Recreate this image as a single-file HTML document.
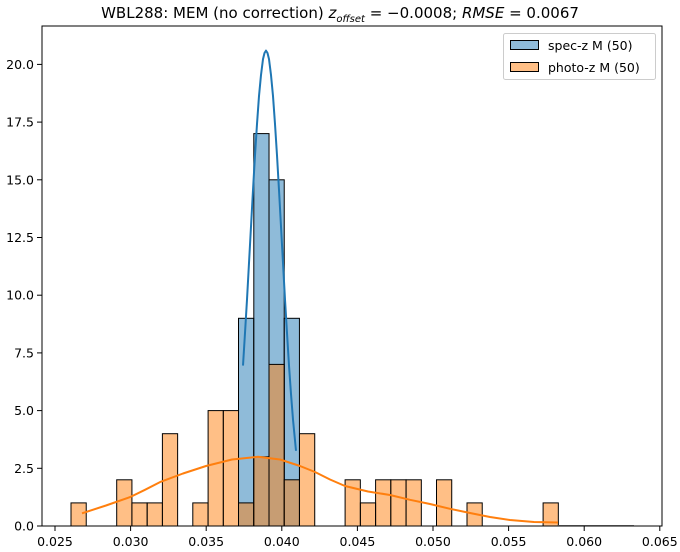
<!DOCTYPE html>
<html><head><meta charset="utf-8"><style>html,body{margin:0;padding:0;background:#fff}svg{display:block}text{font-family:"DejaVu Sans","Liberation Sans",sans-serif;fill:#000}</style></head>
<body>
<svg width="680" height="552" viewBox="0 0 680 552" xmlns="http://www.w3.org/2000/svg">
<rect width="680" height="552" fill="#fff"/>
<text x="340" y="18" font-size="15" text-anchor="middle">WBL288: MEM (no correction) <tspan font-style="italic">z</tspan><tspan font-style="italic" font-size="10" dy="4">offset</tspan><tspan dy="-4"> = −0.0008; </tspan><tspan font-style="italic">RMSE</tspan> = 0.0067</text>
<g stroke="#000" stroke-width="1">
<g fill="#1f77b4" fill-opacity="0.5">
<rect x="238.5" y="318.3" width="15.23" height="207.7"/>
<rect x="253.8" y="133.6" width="15.23" height="392.4"/>
<rect x="269.0" y="179.8" width="15.23" height="346.2"/>
<rect x="284.2" y="318.3" width="15.23" height="207.7"/>
</g>
<g fill="#ff7f0e" fill-opacity="0.5">
<rect x="71.0" y="502.9" width="15.23" height="23.1"/>
<rect x="116.7" y="479.8" width="15.23" height="46.2"/>
<rect x="131.9" y="502.9" width="15.23" height="23.1"/>
<rect x="147.2" y="502.9" width="15.23" height="23.1"/>
<rect x="162.4" y="433.7" width="15.23" height="92.3"/>
<rect x="192.8" y="502.9" width="15.23" height="23.1"/>
<rect x="208.1" y="410.6" width="15.23" height="115.4"/>
<rect x="223.3" y="410.6" width="15.23" height="115.4"/>
<rect x="238.5" y="502.9" width="15.23" height="23.1"/>
<rect x="253.8" y="456.8" width="15.23" height="69.2"/>
<rect x="269.0" y="364.4" width="15.23" height="161.6"/>
<rect x="284.2" y="479.8" width="15.23" height="46.2"/>
<rect x="299.5" y="433.7" width="15.23" height="92.3"/>
<rect x="345.1" y="479.8" width="15.23" height="46.2"/>
<rect x="360.4" y="502.9" width="15.23" height="23.1"/>
<rect x="375.6" y="479.8" width="15.23" height="46.2"/>
<rect x="390.8" y="479.8" width="15.23" height="46.2"/>
<rect x="406.1" y="479.8" width="15.23" height="46.2"/>
<rect x="436.5" y="479.8" width="15.23" height="46.2"/>
<rect x="467.0" y="502.9" width="15.23" height="23.1"/>
<rect x="543.1" y="502.9" width="15.23" height="23.1"/>
</g>
</g>
<polyline fill="none" stroke="#1f77b4" stroke-width="2" stroke-linejoin="round" points="243,365.6 245,333 247,299.6 249,263 251,226.6 253,190 255,155.3 257,124 259,96 261,75 263,59.1 264.5,53 266,50.6 267.5,53 269,59.1 271,75 273,96 275,124 277,155.3 279,190 281,226.6 283,263 285,299.6 287,333 289,365.6 291,394 293,419.6 296,450.8"/>
<polyline fill="none" stroke="#ff7f0e" stroke-width="2" stroke-linejoin="round" points="82,513.3 106,505.5 130,497.1 145,489.8 160,482.1 183,473.5 206,466 232,459.5 258,456.8 280,459.5 300,466 315,472 330,479.5 345,486 368,491.5 390,495 410,499.8 430,504 450,508.8 470,513 490,517 510,520 534,522 558,522.5"/>
<line x1="558" y1="525.5" x2="634" y2="525.5" stroke="#888" stroke-width="1"/>
<g stroke="#000" stroke-width="1" fill="none">
<rect x="42" y="26" width="620" height="500"/>
</g>
<g stroke="#000" stroke-width="1">
<line x1="55" y1="526" x2="55" y2="531"/><line x1="130.6" y1="526" x2="130.6" y2="531"/><line x1="206.2" y1="526" x2="206.2" y2="531"/><line x1="281.8" y1="526" x2="281.8" y2="531"/><line x1="357.4" y1="526" x2="357.4" y2="531"/><line x1="433" y1="526" x2="433" y2="531"/><line x1="508.6" y1="526" x2="508.6" y2="531"/><line x1="584.2" y1="526" x2="584.2" y2="531"/><line x1="659.8" y1="526" x2="659.8" y2="531"/>
<line x1="37" y1="526" x2="42" y2="526"/><line x1="37" y1="468.3" x2="42" y2="468.3"/><line x1="37" y1="410.6" x2="42" y2="410.6"/><line x1="37" y1="352.9" x2="42" y2="352.9"/><line x1="37" y1="295.2" x2="42" y2="295.2"/><line x1="37" y1="237.5" x2="42" y2="237.5"/><line x1="37" y1="179.8" x2="42" y2="179.8"/><line x1="37" y1="122.1" x2="42" y2="122.1"/><line x1="37" y1="64.4" x2="42" y2="64.4"/>
</g>
<g font-size="12.5" text-anchor="middle">
<text x="55" y="546">0.025</text><text x="130.6" y="546">0.030</text><text x="206.2" y="546">0.035</text><text x="281.8" y="546">0.040</text><text x="357.4" y="546">0.045</text><text x="433" y="546">0.050</text><text x="508.6" y="546">0.055</text><text x="584.2" y="546">0.060</text><text x="659.8" y="546">0.065</text>
</g>
<g font-size="12.5" text-anchor="end">
<text x="34" y="530.5">0.0</text><text x="34" y="472.8">2.5</text><text x="34" y="415.1">5.0</text><text x="34" y="357.4">7.5</text><text x="34" y="299.7">10.0</text><text x="34" y="242">12.5</text><text x="34" y="184.3">15.0</text><text x="34" y="126.6">17.5</text><text x="34" y="68.9">20.0</text>
</g>
<rect x="503.5" y="33.5" width="152" height="46" rx="2" fill="#fff" fill-opacity="0.8" stroke="#ccc"/>
<rect x="510.5" y="40.5" width="28" height="9" fill="#8fbbd9" stroke="#000"/>
<rect x="510.5" y="62.5" width="28" height="9" fill="#ffbf86" stroke="#000"/>
<text x="548" y="50" font-size="12.5">spec-z M (50)</text>
<text x="548" y="72" font-size="12.5">photo-z M (50)</text>
</svg>
</body></html>
